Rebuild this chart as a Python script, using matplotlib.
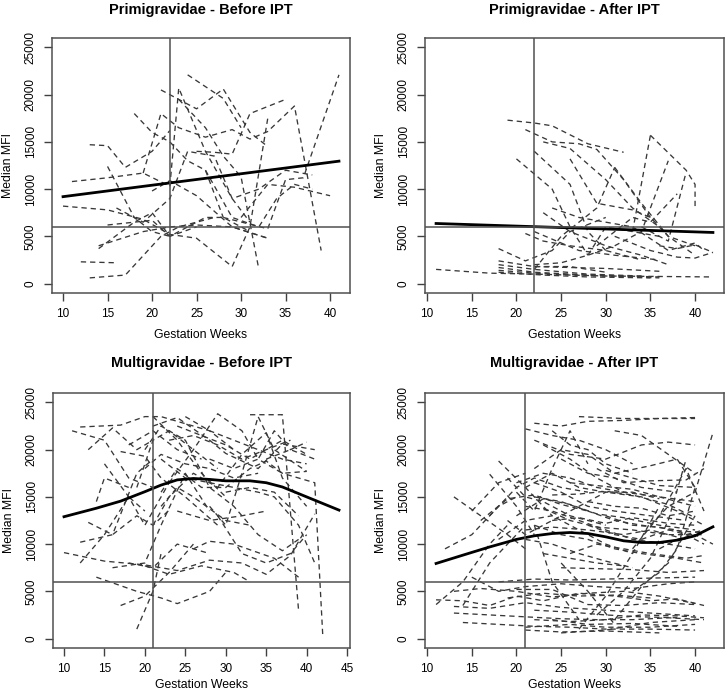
import matplotlib
matplotlib.use("Agg")
import matplotlib.pyplot as plt

plt.rcParams["font.family"] = ["Liberation Sans", "DejaVu Sans"]

# individual women: list of (gestation week, median MFI) visits
primi_before = [
    [(13, 14700), (15, 14600), (17, 12300), (20, 14000), (22, 16200)],
    [(11, 10800), (15, 11200), (19, 11700), (22, 10300), (23, 20700), (26, 14000), (29, 9000), (31, 6500)],
    [(10, 8200), (15, 7800), (19, 6800), (22, 5200), (25, 4800), (29, 1800), (31, 6000), (33, 17500)],
    [(12, 2300), (16, 2200)],
    [(13, 600), (17, 900), (21, 5000), (23, 6000), (27, 7000)],
    [(14, 3700), (18, 6500), (20, 7500), (22, 5000), (25, 6000)],
    [(14, 4000), (19, 5500), (22, 6000), (25, 6200), (29, 6000), (33, 4800)],
    [(15, 12400), (18, 7000), (20, 5500), (22, 5000)],
    [(15, 6200), (20, 6700), (22, 5000), (26, 7000), (28, 7000), (31, 5500)],
    [(18, 18000), (20, 16000), (22, 15000), (24, 13000), (26, 12000), (28, 7000)],
    [(19, 11700), (21, 18000), (23, 16500), (26, 15500), (29, 16300), (31, 15300), (33, 16100), (36, 18800), (39, 3500)],
    [(21, 20500), (25, 18500), (28, 20600), (31, 16000), (33, 14500)],
    [(24, 22100), (28, 19600), (30, 16500)],
    [(23, 19500), (26, 16500), (28, 13500), (30, 11300), (32, 1500)],
    [(28, 7000), (33, 5800), (35, 11000), (37, 11200), (41, 22100)],
    [(25, 14000), (27, 13900), (29, 13700), (31, 18000), (35, 19500)],
    [(30, 7000), (33, 10500), (36, 10200), (40, 9300)],
    [(20, 9800), (22, 10900), (25, 9300), (29, 6000), (33, 4800)],
    [(16, 8000), (19, 6500), (22, 9000), (24, 14000), (27, 13500), (29, 9000), (32, 10000), (35, 12000), (38, 11500)],
    [(26, 12000), (29, 7000), (32, 6000), (34, 9000), (36, 10500), (38, 10000)],
]

primi_after = [
    [(11, 1500), (17, 1100), (22, 1000), (30, 800), (42, 700)],
    [(19, 17300), (22, 17000), (24, 16700), (28, 14800), (32, 13900)],
    [(21, 16300), (24, 15000), (27, 14800), (29, 14200), (32, 11000), (35, 7000)],
    [(23, 15000), (26, 14300), (30, 11000), (33, 8000), (36, 6000)],
    [(22, 14000), (26, 10500), (28, 5500), (30, 3500)],
    [(20, 13200), (24, 10000), (26, 6000), (28, 3000)],
    [(26, 13200), (29, 8500), (33, 7800), (35, 7000), (37, 5000), (40, 4000)],
    [(35, 15700), (39, 12000), (40, 10500), (40, 7800)],
    [(31, 12300), (34, 8500), (37, 5000), (40, 3000)],
    [(33, 5500), (35, 15700)],
    [(23, 7500), (26, 5500), (30, 4000), (34, 3000), (37, 2000)],
    [(24, 8000), (27, 7000), (30, 6500), (33, 6000), (37, 3500), (40, 4300), (41, 3500)],
    [(18, 3700), (21, 2400), (24, 3500), (26, 5500), (30, 7000)],
    [(21, 5300), (23, 4500), (26, 4000), (30, 3500), (34, 2500)],
    [(22, 2000), (25, 2200), (28, 3000), (31, 4000), (34, 5500), (37, 13000)],
    [(22, 1800), (26, 1700), (30, 1600), (36, 1300)],
    [(18, 2400), (22, 1800), (26, 1800), (30, 1200)],
    [(18, 2000), (22, 1500), (28, 1000), (34, 800)],
    [(18, 1700), (22, 1200), (28, 900), (36, 700)],
    [(18, 1400), (22, 1100), (30, 800), (36, 600)],
    [(18, 1200), (23, 900), (28, 700), (35, 600)],
    [(22, 1500), (25, 5000), (29, 8000), (31, 12300)],
    [(29, 4000), (33, 7000), (35, 6500), (38, 9500)],
    [(36, 4000), (38, 3700), (40, 4100), (42, 3300)],
    [(31, 5000), (35, 3500), (38, 2800), (40, 2700), (42, 3300)],
    [(22, 5500), (27, 3500), (31, 3000), (36, 2500)],
    [(34, 6000), (37, 4500), (39, 11800)],
    [(28, 3000), (30, 6000), (33, 5500), (36, 5000)],
]

multi_before = [
    [(11, 22000), (15, 21000), (18, 17000), (21, 16000)],
    [(12, 22400), (17, 22600), (20, 23500), (22, 23500), (24, 23000), (28, 22000), (31, 20000)],
    [(13, 20000), (16, 22300), (19, 20000), (21, 21000)],
    [(10, 9100), (15, 8200), (20, 7800), (24, 7200), (28, 8300), (32, 8000), (35, 6800), (38, 8800), (41, 13200)],
    [(12, 8000), (15, 11000), (18, 15000), (20, 13500)],
    [(12, 10200), (16, 11000), (19, 17500), (21, 19000)],
    [(14, 6500), (19, 5000), (22, 4300), (24, 3700), (28, 5000), (30, 7000)],
    [(14, 14500), (15, 17000), (18, 16000)],
    [(17, 3500), (20, 4500), (23, 7000), (26, 10000)],
    [(19, 1000), (21, 5000), (22, 9000)],
    [(15, 18500), (18, 15000), (20, 12000), (23, 16500)],
    [(18, 8000), (21, 7500), (24, 10000), (28, 9000)],
    [(21, 23500), (24, 21000), (27, 17500), (30, 15000)],
    [(21, 22500), (24, 23400), (28, 21000), (30, 19600), (34, 18000), (37, 20600), (41, 20000)],
    [(23, 16500), (26, 20000), (29, 23800), (32, 22000), (34, 19000), (36, 22000), (38, 20000), (40, 20800)],
    [(33, 23700), (37, 23700), (39, 3000)],
    [(28, 14000), (30, 12000), (32, 17500), (34, 23500), (36, 20000), (40, 17700)],
    [(22, 15500), (24, 18000), (27, 16000), (30, 16000), (33, 18000), (35, 18800), (37, 17500), (41, 16500), (42, 200)],
    [(24, 13500), (28, 12500), (32, 13000), (35, 13500)],
    [(26, 9500), (28, 10300), (31, 10000), (36, 8500), (39, 6500)],
    [(29, 13000), (32, 9000), (35, 8000), (38, 9000), (40, 11000)],
    [(20, 7700), (23, 6800), (27, 7700), (31, 7000), (33, 6000)],
    [(21, 12000), (23, 15000), (26, 17500), (29, 16000), (32, 19500), (35, 21800), (37, 17000), (40, 14000)],
    [(19, 16000), (21, 21000), (23, 22000), (26, 20000), (29, 18000)],
    [(20, 20000), (22, 22500), (25, 21000), (28, 16000), (31, 14000), (34, 11000), (37, 9300), (39, 10500)],
    [(17, 19800), (20, 19300), (22, 17000), (25, 15000), (29, 12000)],
    [(16, 7500), (20, 8000), (22, 12000), (25, 17500), (28, 13500)],
    [(22, 19000), (25, 17000), (28, 16500), (31, 16000), (34, 15500), (36, 15000), (39, 12000), (41, 8000)],
    [(35, 19000), (38, 20000), (41, 19000)],
    [(18, 20500), (21, 22000), (24, 20000), (27, 19000)],
    [(13, 12300), (16, 11000), (19, 13000), (21, 12000), (23, 13600)],
    [(28, 19000), (31, 18000), (34, 19000), (37, 17500), (40, 17700)],
    [(24, 22500), (27, 21500), (30, 20500), (33, 19000), (37, 21000), (40, 19500)],
    [(22, 14000), (24, 16000), (26, 15000), (30, 12500), (33, 12000)],
    [(20, 18000), (22, 19500), (25, 18500), (28, 18000), (31, 17000), (34, 17500)],
    [(23, 21000), (26, 21500), (29, 20500), (32, 19000), (35, 20000), (38, 21000)],
    [(25, 23500), (28, 22000), (31, 21000), (34, 20000), (37, 19000), (40, 18500)],
    [(30, 15500), (33, 16000), (36, 15500), (39, 13000)],
]

multi_after = [
    [(11, 4100), (14, 4000), (17, 3500), (20, 4500), (23, 4000), (27, 4800), (31, 4500), (35, 4000), (38, 4200), (41, 3500)],
    [(13, 5000), (16, 5300), (20, 5000), (24, 4400), (28, 4800), (32, 5000), (36, 4500), (40, 3700)],
    [(13, 3400), (17, 3200), (21, 3800), (25, 3300), (30, 3000), (35, 2700), (40, 2400)],
    [(13, 2700), (17, 2500), (21, 2300), (25, 2100), (29, 2000), (33, 2000), (37, 2200), (41, 2000)],
    [(14, 1700), (18, 1500), (22, 1300), (26, 1200), (30, 1000), (35, 1000), (40, 900)],
    [(21, 900), (25, 700), (30, 800), (36, 600)],
    [(21, 1200), (26, 1500), (30, 1200), (35, 1200), (40, 1500)],
    [(22, 2000), (26, 1800), (30, 2000), (34, 2500), (38, 2400), (41, 2200)],
    [(15, 6500), (18, 5000), (21, 5500), (25, 5800), (29, 5500), (33, 5300), (37, 5800), (40, 6000)],
    [(18, 6000), (22, 6300), (26, 6200), (30, 6300), (35, 6400), (40, 6500)],
    [(19, 4300), (23, 4800), (27, 4500), (31, 4600), (35, 4300)],
    [(22, 3000), (26, 2800), (30, 2500), (34, 2300), (38, 2200)],
    [(20, 5200), (24, 5200), (28, 3600), (32, 3500), (36, 3800), (40, 3600)],
    [(24, 2000), (28, 1500), (33, 1600), (38, 1300)],
    [(25, 600), (30, 900), (35, 1700), (40, 2000)],
    [(11, 3600), (14, 6000), (17, 10000), (19, 12000)],
    [(14, 3500), (17, 8000), (21, 12000)],
    [(13, 15000), (16, 13000), (19, 11000), (21, 9500)],
    [(12, 9500), (15, 11000), (18, 14000), (20, 15000)],
    [(15, 13500), (18, 16500), (21, 17500)],
    [(17, 17400), (20, 14000), (22, 11000)],
    [(18, 18800), (21, 16000), (24, 13000)],
    [(16, 12500), (19, 14800), (22, 15200), (25, 14200), (28, 13500)],
    [(22, 12000), (24, 6000), (27, 2000)],
    [(25, 8000), (28, 5000), (31, 1500)],
    [(27, 1000), (30, 4500), (33, 9000), (36, 14000)],
    [(29, 2500), (32, 5000), (35, 8500), (37, 12500), (39, 19000)],
    [(31, 2000), (34, 5500), (37, 8000), (40, 13000)],
    [(33, 9500), (36, 13000), (39, 18000), (41, 13500)],
    [(21, 22200), (24, 21500), (27, 21000), (30, 20000), (33, 18500)],
    [(22, 22800), (25, 22500), (28, 23000), (32, 23100), (36, 23300), (40, 23300)],
    [(27, 23500), (32, 23300), (36, 23300), (40, 23400)],
    [(22, 21000), (26, 19500), (30, 19000), (34, 20500), (37, 20800), (40, 20500)],
    [(22, 18000), (25, 20000), (28, 19500), (31, 17500), (35, 18300), (38, 19000), (40, 16000)],
    [(23, 20500), (26, 19000), (29, 17000), (32, 15500), (36, 15000), (40, 14000)],
    [(21, 16000), (24, 17500), (27, 16000), (30, 15500), (34, 15000), (38, 13500), (41, 12000)],
    [(22, 15000), (25, 14500), (28, 13500), (31, 12500), (34, 12000), (38, 11500), (41, 10000)],
    [(21, 14000), (24, 13500), (27, 12500), (30, 11500), (33, 10500), (37, 10000), (40, 9500)],
    [(20, 13000), (23, 14800), (26, 14200), (29, 13200), (32, 12800), (36, 12000), (40, 11500)],
    [(22, 12000), (25, 11000), (28, 10500), (31, 9500), (34, 9000), (38, 8500), (41, 8000)],
    [(21, 10500), (24, 10000), (27, 9000), (30, 8200), (33, 7500)],
    [(25, 7500), (29, 7400), (33, 7300), (37, 7000), (41, 7200)],
    [(23, 9000), (26, 8500), (29, 8000), (32, 7700)],
    [(26, 16500), (29, 16200), (33, 15800), (36, 15000), (40, 14500)],
    [(28, 12000), (31, 11000), (34, 10500), (37, 11500), (41, 11200)],
    [(24, 12500), (27, 12800), (30, 12200), (33, 12800), (37, 12200), (40, 12000)],
    [(29, 18000), (32, 16500), (35, 16700), (39, 16800), (41, 18000)],
    [(35, 12000), (37, 14000), (40, 15500), (42, 21800)],
    [(20, 15500), (22, 13500), (24, 18000), (26, 22000), (28, 18500)],
    [(24, 15200), (27, 15300), (30, 15600), (33, 15200), (37, 14200), (40, 12800)],
    [(30, 17800), (33, 17000), (36, 16200), (40, 16000)],
    [(36, 9500), (38, 10500), (40, 11000), (42, 10000)],
    [(19, 17000), (21, 15000), (23, 14500), (26, 13000), (30, 12000)],
    [(17, 13000), (20, 16000), (22, 17000), (25, 16000), (28, 15500)],
    [(19, 12500), (21, 11000), (24, 12500), (27, 14000), (30, 15500), (33, 15500), (36, 14800)],
    [(20, 16500), (23, 17500), (26, 17000), (29, 16000), (32, 15500)],
    [(21, 11500), (24, 11800), (28, 11500), (32, 11000), (35, 11500), (39, 10500)],
    [(23, 13800), (26, 12500), (29, 11800), (33, 11500), (37, 11000), (41, 11000)],
    [(22, 16500), (25, 15500), (28, 14000), (31, 13500), (35, 13000), (39, 12500)],
    [(18, 10500), (21, 12500), (24, 13000), (27, 11500), (30, 10000), (33, 9000)],
    [(25, 19000), (28, 17500), (31, 17000), (34, 16000), (38, 15500)],
    [(26, 9000), (29, 10000), (32, 9500), (35, 9000), (39, 8500), (41, 8800)],
    [(28, 14500), (31, 14000), (34, 13800), (37, 13000), (40, 13500)],
    [(30, 13000), (33, 12000), (36, 11800), (39, 11000), (41, 11500)],
    [(31, 22000), (34, 21500), (37, 19500), (40, 17500)],
    [(24, 22000), (26, 20500), (28, 20000), (30, 18500), (33, 17500)],
    [(33, 5000), (36, 7000), (38, 9500), (40, 16000)],
]

# fitted population curves
primi_before_fit_w = [10, 41]
primi_before_fit = [9200, 12960]
primi_after_fit_w = [11, 42]
primi_after_fit = [6360, 5410]
multi_before_fit_w = [10, 14, 17, 20, 22, 24, 26, 28, 30, 33, 35, 37, 40, 42, 44]
multi_before_fit = [12900, 13800, 14550, 15550, 16250, 16800, 16950, 16850, 16700, 16700, 16500, 16050, 15000, 14300, 13600]
multi_after_fit_w = [11, 14, 17, 20, 22, 24, 26, 28, 30, 32, 34, 36, 38, 40, 42]
multi_after_fit = [7950, 8830, 9700, 10500, 10880, 11120, 11230, 11120, 10770, 10350, 10170, 10170, 10420, 10880, 11830]

panels = [
    ("Primigravidae - Before IPT", primi_before, primi_before_fit_w, primi_before_fit, 22, [10, 15, 20, 25, 30, 35, 40]),
    ("Primigravidae - After IPT", primi_after, primi_after_fit_w, primi_after_fit, 22, [10, 15, 20, 25, 30, 35, 40]),
    ("Multigravidae - Before IPT", multi_before, multi_before_fit_w, multi_before_fit, 21, [10, 15, 20, 25, 30, 35, 40, 45]),
    ("Multigravidae - After IPT", multi_after, multi_after_fit_w, multi_after_fit, 21, [10, 15, 20, 25, 30, 35, 40]),
]
CUTOFF = 6000

W, H = 725, 690
boxes = [(52, 38, 350, 293), (425, 38, 724, 293), (53, 393, 350, 648), (425, 393, 724, 648)]

fig = plt.figure(figsize=(W / 100, H / 100), dpi=100)
for i, ((title, women, fw, fv, vline, xt), (x0, y0, x1, y1)) in enumerate(zip(panels, boxes)):
    ax = fig.add_axes([x0 / W, 1 - y1 / H, (x1 - x0) / W, (y1 - y0) / H])
    for visits in women:
        ax.plot([v[0] for v in visits], [v[1] for v in visits],
                color="#383838", lw=0.95, ls=(0, (4, 3)))
    ax.plot(fw, fv, color="black", lw=2.0)
    ax.axvline(vline, color="#505050", lw=1.1)
    ax.axhline(CUTOFF, color="#505050", lw=1.1)
    allw = [v[0] for visits in women for v in visits] + fw
    lo, hi = min(allw), max(allw)
    pad = 0.04 * (hi - lo)
    ax.set_xlim(lo - pad, hi + pad)
    ax.set_ylim(-1000, 26000)
    ax.set_xticks(xt)
    ax.set_yticks([0, 5000, 10000, 15000, 20000, 25000])
    ax.set_yticklabels(["0", "5000", "10000", "15000", "20000", "25000"],
                       rotation=90, va="center")
    ax.tick_params(length=6, width=1, color="#404040", labelsize=8.5, pad=5)
    for s in ax.spines.values():
        s.set_color("#505050")
        s.set_linewidth(1.1)
    ax.set_title(title, fontsize=10.5, fontweight="bold", pad=17 if i < 2 else 19)
    ax.set_xlabel("Gestation Weeks", fontsize=8.8, labelpad=6 if i < 2 else 3)
    ax.set_ylabel("Median MFI", fontsize=8.8, labelpad=8)

fig.savefig("out.png", dpi=100)
